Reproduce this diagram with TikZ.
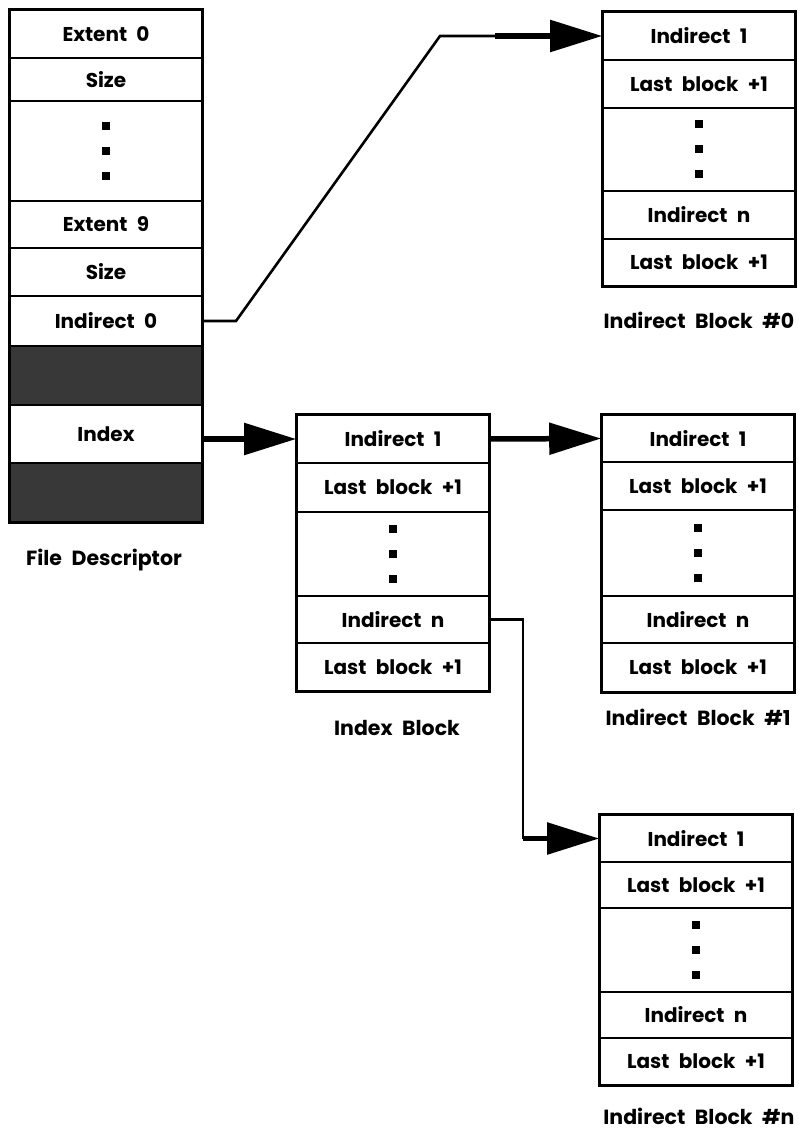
\documentclass[tikz,border=0pt]{standalone}
\usepackage{fontspec}
\setmainfont{Poppins}[WordSpace=2.2]
\usetikzlibrary{arrows.meta}
\begin{document}
\begin{tikzpicture}[x=1pt,y=-1pt,
  cell/.style={draw, line width=1.6pt, minimum width=192pt, inner sep=0pt,
    font=\fontsize{20}{22}\selectfont\bfseries},
  shade/.style={cell, fill=black!78},
  outer/.style={draw, line width=3pt},
  lab/.style={font=\fontsize{20.5}{22}\selectfont\bfseries, inner sep=0pt},
  link/.style={line width=2.6pt},
  bigarrow/.style={line width=5.5pt, -{Triangle[length=52pt,width=31pt]}},
  dot/.style={fill=black}
]
\useasboundingbox (0,0) rectangle (799,1134);

% ---------- File Descriptor ----------
\node[cell, minimum height=48pt] (fd1) at (106,34) {Extent 0};
\node[cell, minimum height=43pt] (fd2) at (106,79.5) {Size};
\node[cell, minimum height=100pt] (fd3) at (106,151) {};
\node[cell, minimum height=47pt] (fd4) at (106,224.5) {Extent 9};
\node[cell, minimum height=48pt] (fd5) at (106,272) {Size};
\node[cell, minimum height=50pt] (fd6) at (106,321) {Indirect 0};
\node[shade, minimum height=59pt] (fd7) at (106,375.5) {};
\node[cell, minimum height=58pt] (fd8) at (106,434) {Index};
\node[shade, minimum height=59pt] (fd9) at (106,492.5) {};
\draw[outer] (fd1.north west) rectangle (fd9.south east);
\node[lab] (fdl) at (104,560) {File Descriptor};

% ---------- Indirect Block #0 ----------
\node[cell, minimum height=48pt] (ba1) at (699,36) {Indirect 1};
\node[cell, minimum height=48pt] (ba2) at (699,84) {Last block +1};
\node[cell, minimum height=83pt] (ba3) at (699,149.5) {};
\node[cell, minimum height=48pt] (ba4) at (699,215) {Indirect n};
\node[cell, minimum height=47pt] (ba5) at (699,262.5) {Last block +1};
\draw[outer] (ba1.north west) rectangle (ba5.south east);
\node[lab] (bal) at (699,320) {Indirect Block \#0};

% ---------- Index Block ----------
\node[cell, minimum height=48pt] (ix1) at (393,439) {Indirect 1};
\node[cell, minimum height=49pt] (ix2) at (393,487.5) {Last block +1};
\node[cell, minimum height=84pt] (ix3) at (393,554) {};
\node[cell, minimum height=47pt] (ix4) at (393,619.5) {Indirect n};
\node[cell, minimum height=48pt] (ix5) at (393,667) {Last block +1};
\draw[outer] (ix1.north west) rectangle (ix5.south east);
\node[lab] (ixl) at (397,728) {Index Block};

% ---------- Indirect Block #1 ----------
\node[cell, minimum height=47pt] (bb1) at (698,438.5) {Indirect 1};
\node[cell, minimum height=48pt] (bb2) at (698,486) {Last block +1};
\node[cell, minimum height=86pt] (bb3) at (698,553) {};
\node[cell, minimum height=47pt] (bb4) at (698,619.5) {Indirect n};
\node[cell, minimum height=49pt] (bb5) at (698,667.5) {Last block +1};
\draw[outer] (bb1.north west) rectangle (bb5.south east);
\node[lab] (bbl) at (698,717) {Indirect Block \#1};

% ---------- Indirect Block #n ----------
\node[cell, minimum height=47pt] (bn1) at (696,838.5) {Indirect 1};
\node[cell, minimum height=46pt] (bn2) at (696,885) {Last block +1};
\node[cell, minimum height=84pt] (bn3) at (696,950) {};
\node[cell, minimum height=46pt] (bn4) at (696,1015) {Indirect n};
\node[cell, minimum height=47pt] (bn5) at (696,1061.5) {Last block +1};
\draw[outer] (bn1.north west) rectangle (bn5.south east);
\node[lab] (bnl) at (699,1116) {Indirect Block \#n};

% ---------- ellipsis dots ----------
\foreach \c in {fd3,ba3,ix3,bb3,bn3}
  \foreach \d in {-25,0,25}
    \fill[dot] ([yshift=\d pt]\c.center) +(-4,-4) rectangle +(4,4);

% ---------- connectors ----------
\coordinate (k1) at (236,321);
\coordinate (k2) at (440,36);
\coordinate (k3) at (495,36);
\draw[link, line join=miter] (fd6.east) -- (k1) -- (k2) -- (k3);
\draw[bigarrow] (k3) -- (ba1.west);

\draw[bigarrow] (fd8.east |- ix1.west) -- (ix1.west);
\draw[bigarrow] (ix1.east) -- (bb1.west);

\coordinate (k4) at (523,619.5);
\coordinate (k5) at (523,838.5);
\draw[link, line join=miter] (ix4.east) -- (k4) -- (k5);
\draw[bigarrow] (k5) -- (bn1.west);
\end{tikzpicture}
\end{document}
